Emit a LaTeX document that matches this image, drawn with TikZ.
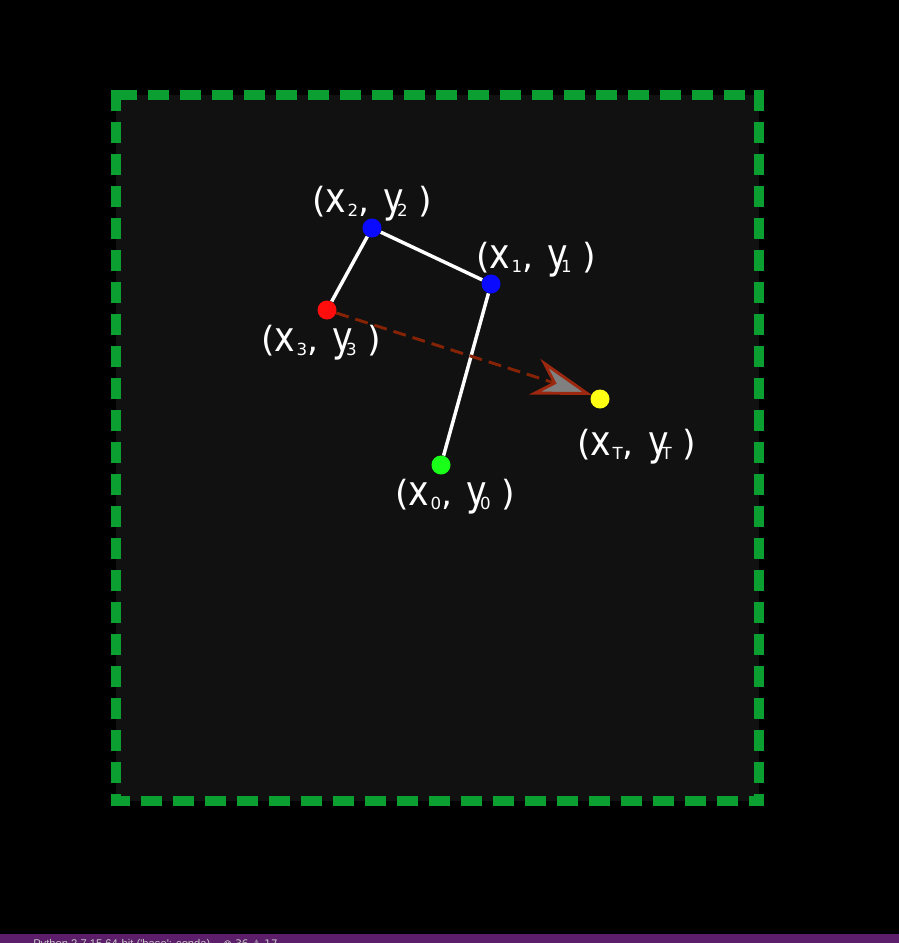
\documentclass[tikz,border=0pt]{standalone}
\usepackage{fontspec}
\setmainfont{DejaVu Sans}
\newfontfamily\barfont{Liberation Sans}
\newfontfamily\symfont{DejaVu Sans}
\usetikzlibrary{arrows.meta}
\definecolor{panel}{RGB}{17,17,17}
\definecolor{framegreen}{RGB}{11,158,48}
\definecolor{dotblue}{RGB}{10,10,255}
\definecolor{dotred}{RGB}{255,12,12}
\definecolor{dotgreen}{RGB}{26,255,26}
\definecolor{dotyellow}{RGB}{255,255,20}
\definecolor{arrowline}{RGB}{135,35,5}
\definecolor{arrowedge}{RGB}{155,40,15}
\definecolor{arrowfill}{RGB}{128,128,128}
\definecolor{barpurple}{RGB}{92,30,106}
\definecolor{barfg}{RGB}{200,200,200}
\newcommand{\subfnt}{\fontsize{12.5pt}{12.5pt}\selectfont}
\newcommand{\tallch}[1]{\scalebox{1}[1.2]{#1}}
\newcommand{\ptlbl}[1]{(\tallch{x}\kern1pt\raisebox{-3pt}{\subfnt #1},\hspace{11pt}\tallch{y}\kern-5.5pt\raisebox{-3pt}{\subfnt #1}\hspace{8pt})}
\tikzset{
  frame/.style={draw=framegreen, line width=7.5pt, line cap=butt},
  dot/.style={circle, inner sep=0pt, minimum size=14.25pt, draw=none},
  link/.style={draw=white, line width=2.6pt},
  lbl/.style={text=white, inner sep=0pt, anchor=base west, font=\fontsize{26pt}{26pt}\selectfont},
  target/.style={draw=arrowline, line width=2.2pt, dash pattern=on 9.75pt off 5.25pt,
    -{Stealth[length=45pt, width=28pt, inset=14pt, line width=2.2pt, fill=arrowfill, color=arrowedge]}},
  bartext/.style={text=barfg, inner sep=0pt, anchor=base west}
}
\begin{document}
\begin{tikzpicture}[x=0.75pt, y=-0.75pt]
\useasboundingbox (0,0) rectangle (899,943);
\fill[black] (0,0) rectangle (899,943);
% status bar
\fill[barpurple] (0,934) rectangle (899,943);
\node[bartext, font=\barfont\fontsize{8.4pt}{8.4pt}\selectfont] (bar1) at (33,947) {Python 2.7.15 64-bit (\textquotesingle base\textquotesingle: conda)};
\node[bartext, font=\symfont\fontsize{7.8pt}{7.8pt}\selectfont] (bar2) at (223,947) {⊗ 36 ⚠ 17};
% panel
\fill[panel] (116,95) rectangle (758.5,800.5);
\draw[frame, dash pattern=on 15.75pt off 8.25pt, dash phase=20.25pt] (111,95) -- (764,95);
\draw[frame, dash pattern=on 15.75pt off 8.25pt] (116,90) -- (116,806);
\draw[frame, dash pattern=on 15.75pt off 8.25pt] (758.5,90) -- (758.5,806);
\draw[frame, dash pattern=on 15.75pt off 8.25pt, dash phase=1.5pt] (111,800.5) -- (764,800.5);
% points
\node[dot, fill=dotblue] (p2) at (372,228) {};
\node[dot, fill=dotblue] (p1) at (491,284) {};
\node[dot, fill=dotred] (p3) at (327,310) {};
\node[dot, fill=dotgreen] (p0) at (441,465) {};
\node[dot, fill=dotyellow] (pt) at (600,399) {};
\coordinate (tip) at (592,395);
% links
\draw[link] (p2) -- (p1);
\draw[link] (p2) -- (p3);
\draw[link] (p1) -- (p0);
\draw[target] (p3) -- (tip);
% labels
\node[lbl] (l2) at (312,212) {\ptlbl{2}};
\node[lbl] (l1) at (476,268) {\ptlbl{1}};
\node[lbl] (l3) at (261,351) {\ptlbl{3}};
\node[lbl] (lt) at (577,455) {\ptlbl{T}};
\node[lbl] (l0) at (395,505) {\ptlbl{0}};
\end{tikzpicture}
\end{document}
